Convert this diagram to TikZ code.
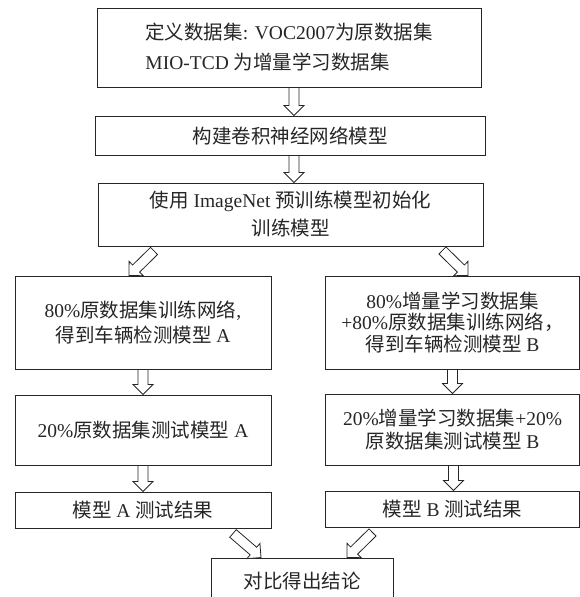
\documentclass[tikz,border=0pt]{standalone}
\usepackage{fontspec}
\setmainfont{Liberation Serif}
\newfontfamily\cjk{Noto Sans CJK SC}
\usetikzlibrary{calc}
\tikzset{
  box/.style={draw=black!85, line width=0.9pt, inner sep=0pt, align=center,
    text=black!85, font=\fontsize{19.5}{25}\selectfont},
  blockarrow/.style={draw=black!85, line width=0.8pt, fill=white, line join=miter}
}
\newcommand{\blockarrow}[2]{%
  \coordinate (bh) at ($(#2)!10pt!(#1)$);
  \draw[blockarrow] ($(#1)!5pt!90:(#2)$) -- ($(bh)!5pt!90:(#2)$) -- ($(bh)!10pt!90:(#2)$) -- (#2)
    -- ($(bh)!10pt!-90:(#2)$) -- ($(bh)!5pt!-90:(#2)$) -- ($(#1)!5pt!-90:(#2)$) -- cycle;
}
\begin{document}
\begin{tikzpicture}[x=1pt,y=-1pt]
\useasboundingbox (0,0) rectangle (580,597);
% boxes
\node[box, minimum width=384pt, minimum height=79pt, align=left, font=\fontsize{19.5}{30}\selectfont] (b1) at (289,47.5)
  {{\cjk 定义数据集}: VOC2007{\cjk 为原数据集}\\MIO-TCD {\cjk 为增量学习数据集}};
\node[box, minimum width=390pt, minimum height=39pt] (b2) at (290,135.5) {{\cjk 构建卷积神经网络模型}};
\node[box, minimum width=385pt, minimum height=63pt, font=\fontsize{19.5}{28}\selectfont] (b3) at (290.5,214.5)
  {{\cjk 使用} ImageNet {\cjk 预训练模型初始化}\\{\cjk 训练模型}};
\node[box, minimum width=256pt, minimum height=93pt] (l1) at (143,322.5)
  {80\%{\cjk 原数据集训练网络},\\{\cjk 得到车辆检测模型} A};
\node[box, minimum width=256pt, minimum height=70pt] (l2) at (143,430)
  {20\%{\cjk 原数据集测试模型} A};
\node[box, minimum width=256pt, minimum height=36pt] (l3) at (143,510)
  {{\cjk 模型} A {\cjk 测试结果}};
\node[box, minimum width=254pt, minimum height=93pt, font=\fontsize{19.5}{21.5}\selectfont] (r1) at (452.5,322.5)
  {80\%{\cjk 增量学习数据集}\\+80\%{\cjk 原数据集训练网络，}\\{\cjk 得到车辆检测模型} B};
\node[box, minimum width=254pt, minimum height=71pt, font=\fontsize{19.5}{23}\selectfont] (r2) at (452.5,429.5)
  {20\%{\cjk 增量学习数据集}+20\%\\{\cjk 原数据集测试模型} B};
\node[box, minimum width=254pt, minimum height=36pt] (r3) at (452.5,509)
  {{\cjk 模型} B {\cjk 测试结果}};
\node[box, minimum width=182pt, minimum height=46pt] (f) at (302,581)
  {{\cjk 对比得出结论}};
% arrow end points
\coordinate (a1s) at ([xshift=5pt]b1.south);
\coordinate (a1e) at ([xshift=4pt]b2.north);
\coordinate (a2s) at ([xshift=4pt]b2.south);
\coordinate (a2e) at ([xshift=3.5pt]b3.north);
\coordinate (a3s) at ([shift={(56.5,4.5)}]b3.south west);
\coordinate (a3e) at ([xshift=-14pt]l1.north);
\coordinate (a4s) at ([shift={(-41,4)}]b3.south east);
\coordinate (a4e) at ([xshift=15.5pt]r1.north);
\coordinate (a5s) at (l1.south);
\coordinate (a5e) at (l2.north);
\coordinate (a6s) at (l2.south);
\coordinate (a6e) at (l3.north);
\coordinate (a7s) at (r1.south);
\coordinate (a7e) at (r2.north);
\coordinate (a8s) at ([xshift=1pt]r2.south);
\coordinate (a8e) at ([xshift=1pt]r3.north);
\coordinate (a9s) at ([shift={(90,5)}]l3.south);
\coordinate (a9e) at ([xshift=-41pt]f.north);
\coordinate (a10s) at ([shift={(-80,5)}]r3.south);
\coordinate (a10e) at ([xshift=45pt]f.north);
% block arrows
\blockarrow{a1s}{a1e}
\blockarrow{a2s}{a2e}
\blockarrow{a3s}{a3e}
\blockarrow{a4s}{a4e}
\blockarrow{a5s}{a5e}
\blockarrow{a6s}{a6e}
\blockarrow{a7s}{a7e}
\blockarrow{a8s}{a8e}
\blockarrow{a9s}{a9e}
\blockarrow{a10s}{a10e}
\end{tikzpicture}
\end{document}
